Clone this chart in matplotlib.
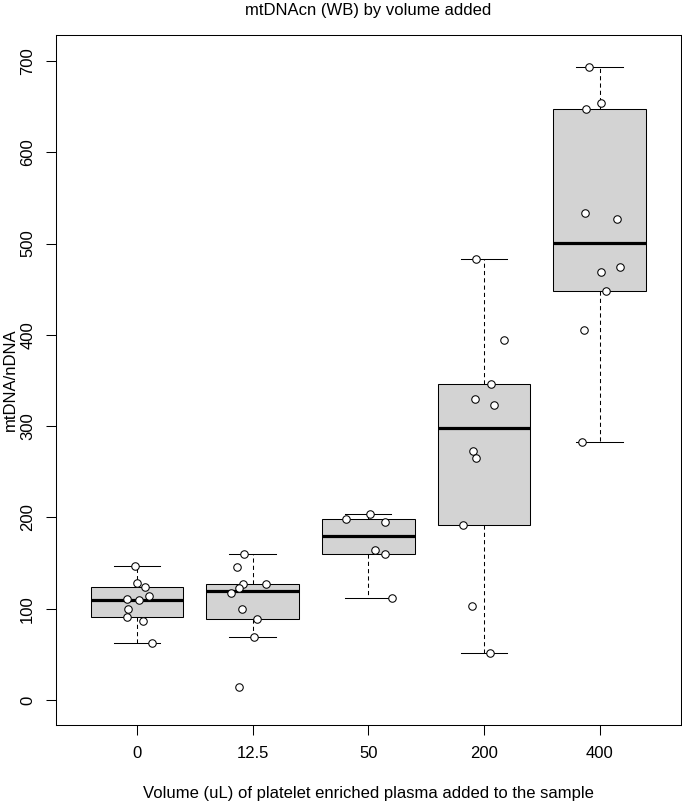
import numpy as np
import matplotlib
matplotlib.use("Agg")
import matplotlib.pyplot as plt

plt.rcParams["font.family"] = ["Liberation Sans", "DejaVu Sans"]

groups = ["0", "12.5", "50", "200", "400"]

vals_0 = [146.4, 127.8, 124.1, 113.9, 110.3, 109.2, 99.7, 90.9, 86.9, 62.1]
vals_12 = [159.6, 145.7, 126.7, 127.1, 122.3, 117.2, 100.0, 88.4, 69.0, 13.9]
vals_50 = [204.1, 198.3, 194.6, 164.0, 159.6, 111.4]
vals_200 = [483.4, 394.1, 346.5, 329.4, 323.5, 272.4, 265.1, 191.3, 103.0, 51.1]
vals_400 = [693.4, 654.0, 647.0, 533.1, 527.3, 474.7, 468.5, 447.7, 405.7, 283.0]

# horizontal jitter of each point (in group units)
jit_0 = [-0.015, 0.0, 0.069, 0.104, -0.086, 0.020, -0.078, -0.084, 0.052, 0.127]
jit_12 = [-0.078, -0.136, -0.080, 0.112, -0.118, -0.190, -0.095, 0.035, 0.009, -0.121]
jit_50 = [0.011, -0.190, 0.144, 0.058, 0.144, 0.205]
jit_200 = [-0.072, 0.170, 0.060, -0.080, 0.084, -0.092, -0.069, -0.181, -0.104, 0.052]
jit_400 = [-0.089, 0.015, -0.121, -0.124, 0.147, 0.173, 0.009, 0.060, -0.132, -0.153]

data = [vals_0, vals_12, vals_50, vals_200, vals_400]
jitter = [jit_0, jit_12, jit_50, jit_200, jit_400]


def r_boxstats(x):
    # same hinges as R's fivenum / boxplot.stats
    x = np.sort(np.asarray(x, dtype=float))
    n = len(x)
    n4 = np.floor((n + 3) / 2) / 2
    d = np.array([1, n4, (n + 1) / 2, n + 1 - n4, n]) - 1
    fn = 0.5 * (x[np.floor(d).astype(int)] + x[np.ceil(d).astype(int)])
    iqr = fn[3] - fn[1]
    lo = x[x >= fn[1] - 1.5 * iqr].min()
    hi = x[x <= fn[3] + 1.5 * iqr].max()
    return dict(med=fn[2], q1=fn[1], q3=fn[3], whislo=lo, whishi=hi, fliers=[])


stats = [r_boxstats(v) for v in data]
pos = np.arange(1, len(groups) + 1)

fig = plt.figure(figsize=(6.82, 8.05), dpi=100)
ax = fig.add_axes([56 / 682, 80 / 805, 624.5 / 682, 690 / 805])

lw = 0.75
ax.bxp(
    stats,
    positions=pos,
    widths=0.8,
    patch_artist=True,
    showfliers=False,
    boxprops=dict(facecolor="#d3d3d3", edgecolor="black", linewidth=lw),
    medianprops=dict(color="black", linewidth=2.3, solid_capstyle="butt"),
    whiskerprops=dict(color="black", linewidth=lw, linestyle=(0, (4, 3))),
    capprops=dict(color="black", linewidth=lw),
    capwidths=0.4,
)

for p, v, j in zip(pos, data, jitter):
    ax.plot(p + np.array(j), v, "o", ms=5.4, mfc="white", mec="black",
            mew=0.75, zorder=5)

ax.set_xlim(0.3, 5.7)
ax.set_ylim(-27.4, 728.5)
ax.set_xticks(pos)
ax.set_xticklabels(groups)
ax.set_yticks(np.arange(0, 701, 100))
ax.set_yticklabels([str(t) for t in range(0, 701, 100)], rotation=90, va="center")

for s in ax.spines.values():
    s.set_linewidth(lw)
ax.tick_params(direction="out", length=7, width=lw, labelsize=12, pad=8)

ax.set_title("mtDNAcn (WB) by volume added", fontsize=12, y=1.036, pad=0, va="center")
ax.set_xlabel("Volume (uL) of platelet enriched plasma added to the sample",
              fontsize=12, va="center")
ax.xaxis.set_label_coords(0.5, -0.0986)
ax.set_ylabel("mtDNA/nDNA", fontsize=12, va="center")
ax.yaxis.set_label_coords(-0.0737, 0.5)

fig.savefig("out.png", dpi=100)
